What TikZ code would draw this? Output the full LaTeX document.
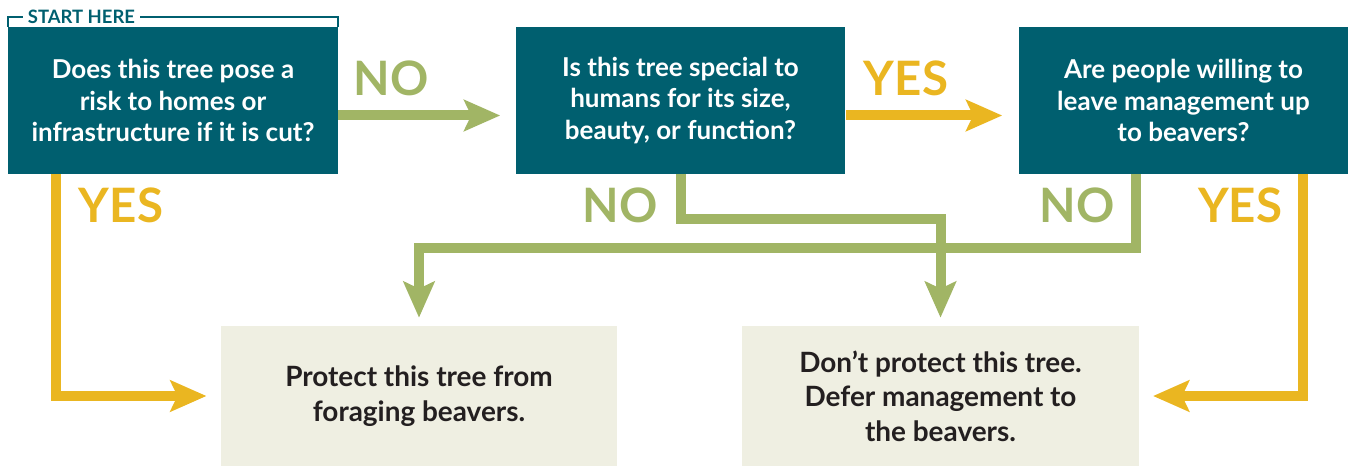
\documentclass[tikz,border=0pt]{standalone}
\usepackage{fontspec}
\setmainfont{Lato}
\usetikzlibrary{arrows.meta}

\definecolor{beaverteal}{HTML}{005F6F}
\definecolor{nogreen}{HTML}{A1B565}
\definecolor{yesgold}{HTML}{EAB621}
\definecolor{outcomebg}{HTML}{EFEFE2}
\definecolor{outcometext}{HTML}{231F20}

\tikzset{
  question/.style={fill=beaverteal, text=white, minimum width=6.6cm, minimum height=2.94cm,
    align=center, font=\bfseries\fontsize{14.8}{17.8}\selectfont, inner sep=0pt},
  outcome/.style={fill=outcomebg, text=outcometext, minimum width=7.93cm, minimum height=2.8cm,
    align=center, font=\bfseries\fontsize{15.9}{19.6}\selectfont, inner sep=0pt},
  noarrow/.style={draw=nogreen, line width=0.2cm,
    -{Stealth[length=0.72cm, width=0.62cm, inset=0.14cm]}},
  yesarrow/.style={draw=yesgold, line width=0.2cm,
    -{Stealth[length=0.72cm, width=0.62cm, inset=0.14cm]}},
  nolabel/.style={text=nogreen, font=\bfseries\fontsize{27}{30}\selectfont},
  yeslabel/.style={text=yesgold, font=\bfseries\fontsize{27}{30}\selectfont}
}

\begin{document}
\begin{tikzpicture}[x=0.02cm, y=-0.02cm]
    \useasboundingbox (0,0) rectangle (1351,466);

    % questions
    \node[question] (q1) at (173,100.5) {Does this tree pose a\\risk to homes or\\infrastructure if it is cut?};
    \node[question] (q2) at (680.5,100.5) {Is this tree special to\\humans for its size,\\beauty, or function?};
    \node[question] (q3) at (1183.5,100.5) {Are people willing to\\leave management up\\to beavers?};

    % outcomes
    \node[outcome] (protect) at (419,396) {Protect this tree from\\foraging beavers.};
    \node[outcome] (defer) at (940.5,396) {Don’t protect this tree.\\Defer management to\\the beavers.};

    % start here frame
    \node[text=beaverteal, font=\bfseries\fontsize{10.5}{11}\selectfont, inner xsep=0.1cm, inner ysep=0pt] (start) at (81.5,17) {START HERE};
    \draw[beaverteal, line width=0.04cm] (q1.north west) |- (start.west);
    \draw[beaverteal, line width=0.04cm] (start.east) -| (q1.north east);

    % connectors
    \draw[noarrow, shorten >=0.3cm] ([yshift=-0.3cm]q1.east) -- ([yshift=-0.3cm]q2.west);
    \draw[yesarrow, shorten >=0.32cm] ([yshift=-0.3cm]q2.east) -- ([yshift=-0.3cm]q3.west);
    \draw[yesarrow, shorten >=0.28cm] ([xshift=0.96cm]q1.south west) |- (protect.west);
    \draw[yesarrow, shorten >=0.28cm] ([xshift=-0.92cm]q3.south east) |- (defer.east);
    \draw[noarrow, shorten >=0.16cm] (q2.south) -- ++(0,-0.9cm) -| (defer.north);
    \draw[noarrow, shorten >=0.16cm] ([xshift=2.36cm]q3.south west) -- ++(0,-1.48cm) -| (protect.north);

    % answers
    \node[nolabel] (no1) at (391,78) {NO};
    \node[yeslabel] (yes2) at (906,78) {YES};
    \node[yeslabel] (yes1) at (121,205) {YES};
    \node[nolabel] (no2) at (620,205) {NO};
    \node[nolabel] (no3) at (1077,205) {NO};
    \node[yeslabel] (yes3) at (1240,205) {YES};
\end{tikzpicture}
\end{document}
